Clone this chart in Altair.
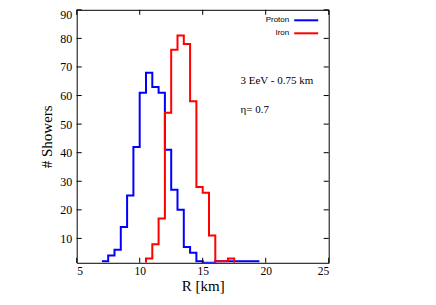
import altair as alt
import pandas as pd

# Histogram data (bin left edges, 0.5 km bins)
proton_edges = [7.0, 7.5, 8.0, 8.5, 9.0, 9.5, 10.0, 10.5, 11.0, 11.5, 12.0, 12.5,
                13.0, 13.5, 14.0, 14.5, 15.0, 15.5, 16.0, 16.5, 17.0, 17.5, 18.0, 18.5, 19.0]
proton_counts = [2, 4, 6, 14, 25, 42, 61, 68, 63, 61, 41, 27,
                 20, 7, 5, 2, 0, 0, 2, 2, 2, 2, 2, 2, 2]
iron_edges = [10.5, 11.0, 11.5, 12.0, 12.5, 13.0, 13.5, 14.0, 14.5, 15.0, 15.5,
              16.0, 16.5, 17.0]
iron_counts = [3, 8, 17, 54, 76, 81, 78, 58, 28, 26, 11, 2, 2, 3]
bin_width = 0.5

x_ticks = [5, 10, 15, 20, 25]
y_ticks = [10, 20, 30, 40, 50, 60, 70, 80, 90]
x_domain = [5, 25]
y_domain = [1.47, 90]

legend_names = ["Proton", "Iron"]
colors = ["#0000ff", "#ff0000"]
annot_text = ["3 EeV - 0.75 km", "η= 0.7"]
annot_x = [18.0, 18.0]
annot_y = [65, 55]

W, H = 252, 253


def step_rows(name, edges, counts, start_from_zero, end_zero):
    rows = []
    if start_from_zero:
        rows.append({"series": name, "R": edges[0], "n": 0, "o": 0})
    for e, c in zip(edges, counts):
        rows.append({"series": name, "R": e, "n": c, "o": len(rows)})
    last = edges[-1] + bin_width
    rows.append({"series": name, "R": last, "n": 0 if end_zero else counts[-1], "o": len(rows)})
    return rows


proton_df = pd.DataFrame(step_rows("Proton", proton_edges, proton_counts, False, False))
iron_df = pd.DataFrame(step_rows("Iron", iron_edges, iron_counts, True, True))

xs = alt.Scale(domain=x_domain, nice=False, zero=False)
ys = alt.Scale(domain=y_domain, nice=False, zero=False, clamp=True)

serif = "Liberation Serif"

x_axis = alt.Axis(values=x_ticks, title="R [km]", grid=False, ticks=False, domain=False,
                  labelFont=serif, labelFontSize=11.5, labelColor="black", labelPadding=3,
                  titleFont=serif, titleFontSize=15, titleFontWeight="normal",
                  titleColor="black", titlePadding=1)
y_axis = alt.Axis(values=y_ticks, title="# Showers", grid=False, ticks=False, domain=False,
                  labelFont=serif, labelFontSize=12, labelColor="black", labelPadding=5,
                  labelOffset={"condition": {"test": "datum.value === 90", "value": 4.5}, "value": 0},
                  titleFont=serif, titleFontSize=15, titleFontWeight="normal",
                  titleColor="black", titlePadding=5)

X = lambda f: alt.X(f, scale=xs, axis=x_axis)
Y = lambda f: alt.Y(f, scale=ys, axis=y_axis)

proton = alt.Chart(proton_df).mark_line(interpolate="step-after", strokeWidth=2, color=colors[0], clip=True).encode(
    x=X("R:Q"), y=Y("n:Q"), order="o:Q",
)
iron = alt.Chart(iron_df).mark_line(interpolate="step-after", strokeWidth=2, color=colors[1], clip=True).encode(
    x=X("R:Q"), y=Y("n:Q"), order="o:Q",
)

xt_df = pd.DataFrame({"v": x_ticks})
yt_df = pd.DataFrame({"v": y_ticks})
tick_len = 5
xt_bottom = alt.Chart(xt_df).mark_rule(color="black", strokeWidth=1).encode(
    x=X("v:Q"), y=alt.value(H), y2=alt.value(H - tick_len))
xt_top = alt.Chart(xt_df).mark_rule(color="black", strokeWidth=1).encode(
    x=X("v:Q"), y=alt.value(0), y2=alt.value(tick_len))
yt_left = alt.Chart(yt_df).mark_rule(color="black", strokeWidth=1).encode(
    y=Y("v:Q"), x=alt.value(0), x2=alt.value(tick_len))
yt_right = alt.Chart(yt_df).mark_rule(color="black", strokeWidth=1).encode(
    y=Y("v:Q"), x=alt.value(W), x2=alt.value(W - tick_len))

# legend (top right, gnuplot style: text then line sample)
leg_df = pd.DataFrame({"name": legend_names, "color": colors, "yy": [10.5, 23.5]})
leg_text = alt.Chart(leg_df).mark_text(align="right", baseline="middle", font="Liberation Sans",
                                      fontSize=8, color="black").encode(
    text="name:N", x=alt.value(212.5), y=alt.Y("yy:Q", scale=None))
leg_line = alt.Chart(leg_df).mark_rule(strokeWidth=2).encode(
    x=alt.value(217.5), x2=alt.value(241.5), y=alt.Y("yy:Q", scale=None),
    color=alt.Color("color:N", scale=None))

ann_df = pd.DataFrame({"t": annot_text, "x": annot_x, "y": annot_y})
ann = alt.Chart(ann_df).mark_text(align="left", baseline="middle", font=serif, fontSize=11,
                                 color="black").encode(
    text="t:N", x=X("x:Q"), y=Y("y:Q"))

chart = alt.layer(proton, iron, xt_bottom, xt_top, yt_left, yt_right, leg_line, leg_text, ann).properties(
    width=W, height=H,
    autosize="none",
    padding={"left": 68.7, "top": 1.8, "right": 80, "bottom": 40},
).configure_view(stroke="black", strokeWidth=1)

chart.save("out.html", embed_options={"renderer": "svg", "actions": False})
